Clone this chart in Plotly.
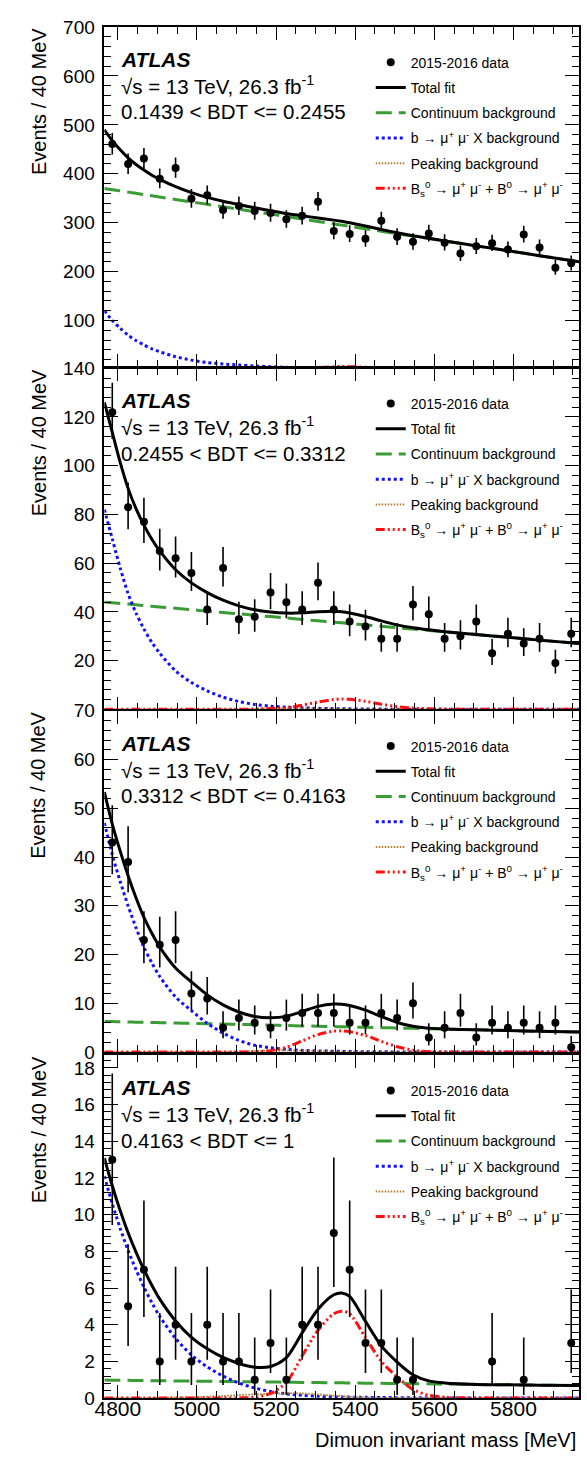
import math
import numpy as np
import plotly.graph_objects as go

W, H = 587, 1462
FONT = "Liberation Sans, Arial, Helvetica, sans-serif"

# ---------------------------------------------------------------- data ----
# centres of the 40 MeV dimuon-mass bins
BIN_CENTRES = [4786, 4826, 4866, 4906, 4946, 4986, 5026, 5066, 5106, 5146,
               5186, 5226, 5266, 5306, 5346, 5386, 5426, 5466, 5506, 5546,
               5586, 5626, 5666, 5706, 5746, 5786, 5826, 5866, 5906, 5946]

# observed events per bin in each BDT interval (empty bins are not drawn)
COUNTS_BDT1 = [461, 420, 431, 390, 412, 349, 356, 326, 334, 324,
               320, 307, 314, 343, 283, 277, 267, 304, 271, 261,
               278, 259, 237, 252, 258, 245, 276, 249, 208, 217]
COUNTS_BDT2 = [122, 83, 77, 65, 62, 56, 41, 58, 37, 38,
               48, 44, 41, 52, 41, 36, 34, 29, 29, 43,
               39, 29, 30, 36, 23, 31, 27, 29, 19, 31]
COUNTS_BDT3 = [43, 39, 23, 22, 23, 12, 11, 5, 7, 6,
               5, 7, 8, 8, 8, 6, 6, 8, 7, 10,
               3, 5, 8, 3, 6, 5, 6, 5, 6, 1]
COUNTS_BDT4 = [13, 5, 7, 2, 4, 2, 4, 2, 2, 1,
               3, 1, 4, 4, 9, 7, 3, 3, 1, 1,
               0, 0, 0, 0, 2, 0, 1, 0, 0, 3]

# mass points at which the fit components are tabulated
FIT_MASS = [4766, 4786, 4806, 4826, 4846, 4866, 4886, 4906, 4946, 4986,
            5026, 5066, 5106, 5146, 5186, 5226, 5266, 5306, 5346, 5366,
            5386, 5426, 5466, 5506, 5546, 5586, 5626, 5706, 5786, 5866, 5966]

# fit components, BDT interval 1
CONT_BDT1 = [370, 367.5, 365, 362.5, 360, 357.5, 355, 352.5, 347.5, 342.5,
             337.5, 332.5, 327.5, 322.5, 317.5, 312.5, 307.5, 302.5, 297.5, 295,
             292.5, 287.5, 282.5, 277.5, 272.5, 267.5, 262.5, 252.5, 242.5, 232.5, 220]
BMUMUX_BDT1 = [120, 100, 84, 70, 59, 50, 42, 36, 26, 19, 14, 11, 9, 7, 5.5, 4.3,
               3.3, 2.5, 1.9, 1.6, 1.4, 1.0, 0.7, 0.5, 0.35, 0.25, 0.15, 0.08, 0.04, 0.02, 0]
PEAK_BDT1 = [0, 0, 0, 0, 0, 0, 0, 0, 0.05, 0.1, 0.2, 0.35, 0.55, 0.8, 1.0, 1.1,
             1.05, 0.85, 0.55, 0.42, 0.3, 0.12, 0.04, 0.01, 0, 0, 0, 0, 0, 0, 0]
SIG_BDT1 = [0, 0, 0, 0, 0, 0, 0, 0, 0, 0, 0, 0, 0.03, 0.12, 0.35, 0.9,
            2.2, 3.8, 5.3, 5.8, 5.6, 4.4, 2.8, 1.4, 0.6, 0.2, 0.06, 0, 0, 0, 0]

# fit components, BDT interval 2
CONT_BDT2 = [44.0, 43.7, 43.4, 43.2, 42.9, 42.6, 42.3, 42.0, 41.5, 40.9,
             40.3, 39.75, 39.2, 38.6, 38.05, 37.5, 36.9, 36.35, 35.8, 35.5,
             35.2, 34.65, 34.1, 33.5, 32.95, 32.4, 31.8, 30.7, 29.55, 28.4, 27.0]
BMUMUX_BDT2 = [82, 70, 58, 47.5, 39.5, 33, 27.5, 23, 15.8, 11, 7.6, 5.0, 3.2, 2.0,
               1.3, 0.9, 0.6, 0.4, 0.28, 0.22, 0.18, 0.12, 0.08, 0.05, 0.03, 0.02,
               0.01, 0, 0, 0, 0]
PEAK_BDT2 = [0, 0, 0, 0, 0, 0, 0, 0, 0, 0.01, 0.02, 0.03, 0.05, 0.15, 0.3, 0.4,
             0.4, 0.3, 0.18, 0.12, 0.08, 0.03, 0.01, 0, 0, 0, 0, 0, 0, 0, 0]
SIG_BDT2 = [0, 0, 0, 0, 0, 0, 0, 0, 0, 0, 0, 0, 0.03, 0.1, 0.3, 0.7,
            1.7, 3.0, 4.0, 4.2, 4.1, 3.3, 2.1, 1.1, 0.5, 0.2, 0.07, 0, 0, 0, 0]

# fit components, BDT interval 3
CONT_BDT3 = [6.3, 6.26, 6.23, 6.19, 6.15, 6.12, 6.08, 6.04, 5.97, 5.9,
             5.82, 5.75, 5.68, 5.6, 5.53, 5.46, 5.38, 5.31, 5.24, 5.2,
             5.16, 5.09, 5.02, 4.94, 4.87, 4.8, 4.72, 4.58, 4.43, 4.28, 4.1]
BMUMUX_BDT3 = [47, 40.5, 35, 30, 25.5, 21.5, 18.3, 15.5, 11.3, 8.5, 5.9, 3.9, 2.4,
               1.4, 0.9, 0.55, 0.35, 0.25, 0.18, 0.15, 0.12, 0.09, 0.06, 0.04,
               0.03, 0.02, 0.01, 0, 0, 0, 0]
PEAK_BDT3 = [0, 0, 0, 0, 0, 0, 0, 0, 0, 0.01, 0.02, 0.05, 0.12, 0.22, 0.3, 0.32,
             0.3, 0.22, 0.13, 0.1, 0.07, 0.03, 0.01, 0, 0, 0, 0, 0, 0, 0, 0]
SIG_BDT3 = [0, 0, 0, 0, 0, 0, 0, 0, 0, 0, 0, 0, 0.02, 0.08, 0.3, 1.0,
            2.3, 3.6, 4.3, 4.35, 4.2, 3.4, 2.2, 1.1, 0.4, 0.1, 0.03, 0, 0, 0, 0]

# fit components, BDT interval 4
CONT_BDT4 = [0.98, 0.975, 0.97, 0.965, 0.96, 0.955, 0.95, 0.945, 0.935, 0.925,
             0.915, 0.905, 0.895, 0.885, 0.875, 0.865, 0.855, 0.845, 0.835, 0.83,
             0.825, 0.815, 0.805, 0.795, 0.785, 0.775, 0.765, 0.745, 0.725, 0.705, 0.68]
BMUMUX_BDT4 = [12.1, 10.6, 9.25, 8.05, 7.0, 6.05, 5.2, 4.45, 3.25, 2.35, 1.7, 1.2,
               0.82, 0.55, 0.36, 0.23, 0.15, 0.1, 0.07, 0.06, 0.05, 0.04, 0.03,
               0.02, 0.015, 0.01, 0.01, 0, 0, 0, 0]
PEAK_BDT4 = [0, 0, 0, 0, 0, 0, 0, 0, 0.02, 0.04, 0.07, 0.11, 0.16, 0.2, 0.24, 0.26,
             0.25, 0.2, 0.13, 0.1, 0.07, 0.03, 0.01, 0, 0, 0, 0, 0, 0, 0, 0]
SIG_BDT4 = [0, 0, 0, 0, 0, 0, 0, 0, 0, 0, 0, 0, 0.01, 0.05, 0.25, 0.85,
            2.3, 3.7, 4.6, 4.74, 4.6, 3.3, 2.0, 1.15, 0.47, 0.15, 0.05, 0, 0, 0, 0]

BDT_LABELS = ["0.1439 &lt; BDT &lt;= 0.2455", "0.2455 &lt; BDT &lt;= 0.3312",
              "0.3312 &lt; BDT &lt;= 0.4163", "0.4163 &lt; BDT &lt;= 1"]

X_TICKS = [4800, 5000, 5200, 5400, 5600, 5800]

# ------------------------------------------------------------- helpers ----
LOG_FACT = np.array([math.lgamma(k + 1) for k in range(2000)])


def poisson_cdf(n, mu):
    if n < 0:
        return 0.0
    k = np.arange(n + 1)
    return float(np.exp(k * math.log(mu) - mu - LOG_FACT[:n + 1]).sum())


def poisson_interval(n, cl=0.682689492):
    """Central (Garwood) interval on a Poisson mean for n observed events."""
    a = (1.0 - cl) / 2.0
    if n == 0:
        lo = 0.0
    else:
        l, h = 1e-9, float(n)
        for _ in range(80):
            m = 0.5 * (l + h)
            if 1.0 - poisson_cdf(n - 1, m) < a:
                l = m
            else:
                h = m
        lo = 0.5 * (l + h)
    l, h = float(n), n + 10.0 * math.sqrt(n + 1) + 10.0
    for _ in range(80):
        m = 0.5 * (l + h)
        if poisson_cdf(n, m) > a:
            l = m
        else:
            h = m
    hi = 0.5 * (l + h)
    return n - lo, hi - n


def px_x(px):
    return px / W


def px_y(py):
    return 1.0 - py / H


# ---------------------------------------------------------- panel setup ----
PANELS = [
    dict(counts=COUNTS_BDT1, cont=CONT_BDT1, bmx=BMUMUX_BDT1, peak=PEAK_BDT1, sig=SIG_BDT1,
         top=17.3, bottom=362.0, yrange=[5.3, 700], tickvals=list(range(100, 701, 100)), minor=20),
    dict(counts=COUNTS_BDT2, cont=CONT_BDT2, bmx=BMUMUX_BDT2, peak=PEAK_BDT2, sig=SIG_BDT2,
         top=363.5, bottom=709.5, yrange=[0, 140], tickvals=list(range(20, 141, 20)), minor=4),
    dict(counts=COUNTS_BDT3, cont=CONT_BDT3, bmx=BMUMUX_BDT3, peak=PEAK_BDT3, sig=SIG_BDT3,
         top=711.0, bottom=1057.3, yrange=[0, 70], tickvals=list(range(0, 71, 10)), minor=2),
    dict(counts=COUNTS_BDT4, cont=CONT_BDT4, bmx=BMUMUX_BDT4, peak=PEAK_BDT4, sig=SIG_BDT4,
         top=1060.5, bottom=1408.3, yrange=[0, 18.69], tickvals=list(range(0, 19, 2)), minor=0.4),
]

GREEN = "#3a9c34"
BLUE = "#1010ff"
BROWN = "#b07a2a"
RED = "#ff1010"

X_LEFT, X_RIGHT = 96.0, 579.0
X_RANGE = [4766, 5966]

fig = go.Figure()
layout = dict(
    width=W, height=H,
    margin=dict(l=0, r=0, t=0, b=0),
    paper_bgcolor="white", plot_bgcolor="white",
    font=dict(family=FONT, color="black"),
    showlegend=True,
)

for i, p in enumerate(PANELS):
    k = "" if i == 0 else str(i + 1)
    xa, ya = "x" + k, "y" + k
    leg = "legend" + k

    cont = np.array(p["cont"], dtype=float)
    bmx = np.array(p["bmx"], dtype=float)
    peak = np.array(p["peak"], dtype=float)
    sig = np.array(p["sig"], dtype=float)
    total = cont + bmx + peak + sig

    curves = [
        ("Continuum background", cont, dict(color=GREEN, width=3, dash="16px,7px"), 3),
        ("b \u2192 \u03bc<sup>+</sup> \u03bc<sup>-</sup> X background", bmx,
         dict(color=BLUE, width=3, dash="3px,3px"), 4),
        ("Peaking background", peak, dict(color=BROWN, width=2, dash="1.5px,1.5px"), 5),
        ("B<sub>s</sub><sup>0</sup> \u2192 \u03bc<sup>+</sup> \u03bc<sup>-</sup> + "
         "B<sup>0</sup> \u2192 \u03bc<sup>+</sup> \u03bc<sup>-</sup>", sig,
         dict(color=RED, width=3, dash="9px,3px,2px,3px,2px,3px,2px,3px"), 6),
        ("Total fit", total, dict(color="black", width=3), 2),
    ]
    for name, vals, line, rank in curves:
        fig.add_trace(go.Scatter(
            x=FIT_MASS, y=vals, mode="lines", name=name,
            line=dict(shape="spline", smoothing=0.8, **line),
            xaxis=xa, yaxis=ya, legend=leg, legendgroup=f"g{i}{rank}", legendrank=rank,
            hoverinfo="skip"))

    xs, ys, up, dn = [], [], [], []
    for m, n in zip(BIN_CENTRES, p["counts"]):
        if n <= 0:
            continue
        lo, hi = poisson_interval(n)
        xs.append(m)
        ys.append(n)
        up.append(hi)
        dn.append(lo)
    fig.add_trace(go.Scatter(
        x=xs, y=ys, mode="markers", name="2015-2016 data",
        marker=dict(color="black", size=8),
        error_y=dict(type="data", symmetric=False, array=up, arrayminus=dn,
                     width=0, thickness=1.6, color="black"),
        xaxis=xa, yaxis=ya, legend=leg, legendgroup=f"g{i}1", legendrank=1))

    dom_y = [px_y(p["bottom"]), px_y(p["top"])]
    last = i == len(PANELS) - 1
    layout["xaxis" + k] = dict(
        domain=[px_x(X_LEFT), px_x(X_RIGHT)], range=X_RANGE, anchor=ya,
        showline=True, linecolor="black", linewidth=1.5, mirror="ticks",
        ticks="inside", ticklen=13, tickwidth=1.3, tickcolor="black",
        tickmode="array", tickvals=X_TICKS, showticklabels=last,
        ticklabelstandoff=-9,
        tickfont=dict(size=21, family=FONT, color="black"),
        minor=dict(dtick=50, tick0=4800, ticks="inside", ticklen=7,
                   tickwidth=1.3, tickcolor="black"),
        showgrid=False, zeroline=False, fixedrange=True)
    layout["yaxis" + k] = dict(
        domain=dom_y, range=p["yrange"], anchor=xa,
        showline=True, linecolor="black", linewidth=1.5, mirror="ticks",
        ticks="inside", ticklen=14, tickwidth=1.3, tickcolor="black",
        tickmode="array", tickvals=p["tickvals"], ticklabelstandoff=4,
        tickfont=dict(size=19, family=FONT, color="black"),
        minor=dict(dtick=p["minor"], tick0=0, ticks="inside", ticklen=7,
                   tickwidth=1.3, tickcolor="black"),
        showgrid=False, zeroline=False, fixedrange=True)

    layout[leg] = dict(
        x=px_x(367), y=px_y(p["top"] + 20), xanchor="left", yanchor="top",
        bgcolor="rgba(0,0,0,0)", borderwidth=0,
        font=dict(size=14, family=FONT, color="black"),
        tracegroupgap=4)

fig.update_layout(**layout)

# panel captions and axis titles
for i, p in enumerate(PANELS):
    top = p["top"]
    fig.add_annotation(text="<b><i>ATLAS</i></b>", xref="paper", yref="paper",
                       x=px_x(111), y=px_y(top + 33), xanchor="left", yanchor="middle",
                       showarrow=False, font=dict(size=21, family=FONT, color="black"))
    fig.add_annotation(text="\u221as = 13 TeV, 26.3 fb<sup>-1</sup>", xref="paper", yref="paper",
                       x=px_x(111), y=px_y(top + 59), xanchor="left", yanchor="middle",
                       showarrow=False, font=dict(size=20.5, family=FONT, color="black"))
    fig.add_annotation(text=BDT_LABELS[i], xref="paper", yref="paper",
                       x=px_x(111), y=px_y(top + 86), xanchor="left", yanchor="middle",
                       showarrow=False, font=dict(size=20.5, family=FONT, color="black"))
    fig.add_annotation(text="Events / 40 MeV", textangle=-90, xref="paper", yref="paper",
                       x=px_x(29), y=px_y(top - 1), xanchor="center", yanchor="top",
                       showarrow=False, font=dict(size=20, family=FONT, color="black"))

fig.add_annotation(text="Dimuon invariant mass [MeV]", xref="paper", yref="paper",
                   x=px_x(578), y=px_y(1451), xanchor="right", yanchor="middle",
                   showarrow=False, font=dict(size=20, family=FONT, color="black"))

fig.write_html("out.html")
